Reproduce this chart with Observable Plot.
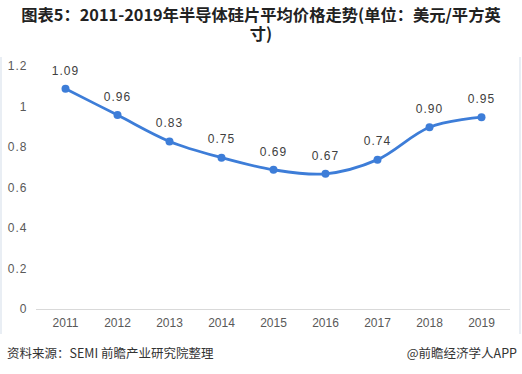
<!DOCTYPE html>
<html><head><meta charset="utf-8">
<script src="https://cdn.jsdelivr.net/npm/d3@7"></script>
<script src="https://cdn.jsdelivr.net/npm/@observablehq/plot@0.6"></script>
<style>
body{margin:0;background:#fff;width:522px;height:374px;overflow:hidden;font-family:"Noto Sans CJK SC","Noto Sans",sans-serif;}
#title{position:absolute;left:0;top:5px;width:522px;text-align:center;font-weight:bold;font-size:16.3px;line-height:19px;color:#222;}
#title span{display:inline-block;width:484px;}
#chart{position:absolute;left:0;top:52px;width:522px;height:283px;}
.frame{position:absolute;top:57px;height:277px;width:2px;background:#e9eef4;}
#foot{position:absolute;left:7px;top:343px;font-size:12.5px;color:#333;}
#foot2{position:absolute;right:5px;top:343px;font-size:12.5px;color:#333;}
#chart text.sp{letter-spacing:1px;}
</style></head>
<body>
<div id="title"><span>图表5：2011-2019年半导体硅片平均价格走势(单位：美元/平方英寸)</span></div>
<div class="frame" style="left:0px"></div>
<div class="frame" style="left:519px"></div>
<div id="chart"></div>
<div id="foot">资料来源：SEMI 前瞻产业研究院整理</div>
<div id="foot2">@前瞻经济学人APP</div>
<script>
const years = ["2011","2012","2013","2014","2015","2016","2017","2018","2019"];
const prices = [1.09,0.96,0.83,0.75,0.69,0.67,0.74,0.90,0.95];
const yTicks = [0,0.2,0.4,0.6,0.8,1,1.2];

const data = years.map((y,i)=>({year:y, price:prices[i]}));
const sans = "'Liberation Sans',Arial,sans-serif";

const plot = Plot.plot({
  width:522, height:283,
  marginTop:14, marginBottom:26, marginLeft:36, marginRight:12,
  style:{background:"transparent", color:"#595959"},
  x:{type:"point", domain:years, padding:0.5, label:null},
  y:{domain:[0,1.2], label:null},
  marks:[
    Plot.ruleY([0],{stroke:"#d9d9d9", strokeWidth:1}),
    Plot.axisX({tickSize:0, tickPadding:9, fontSize:12, fontFamily:sans, fill:"#595959"}),
    Plot.axisY({ticks:yTicks, tickFormat:d=>String(d), tickSize:0, tickPadding:9, fontSize:12, fontFamily:sans, fill:"#595959", className:"yax"}),
    Plot.line(data,{x:"year", y:"price", curve:"catmull-rom", stroke:"#3d7dd8", strokeWidth:2.8}),
    Plot.dot(data,{x:"year", y:"price", r:4, fill:"#3d7dd8"}),
    Plot.text(data,{x:"year", y:"price", text:d=>d.price.toFixed(2), dy:-18, fontSize:12, fontFamily:sans, fill:"#404040", className:"lbl"})
  ]
});
plot.querySelectorAll(".yax text, .lbl text").forEach(t=>t.classList.add("sp"));
document.getElementById("chart").appendChild(plot);
</script>
</body></html>
